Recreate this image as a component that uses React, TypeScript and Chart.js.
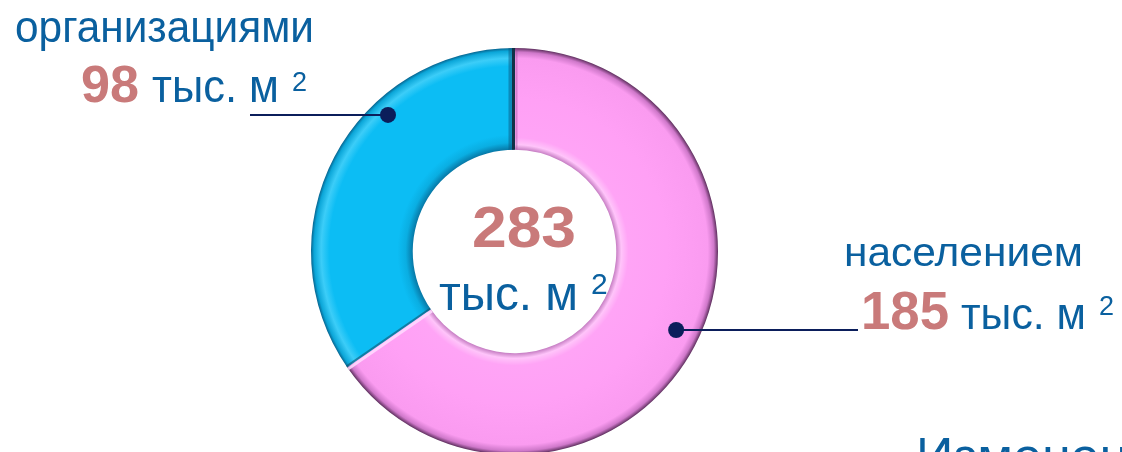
import React, { useEffect, useRef } from 'react';
import { Chart, registerables } from 'chart.js';

Chart.register(...registerables);

// ---- data ----
const categories = ['населением', 'организациями'];
const values = [185, 98];
const sliceColors = ['#FFA0F5', '#0CBDF4'];
const unitLabel = 'тыс. м';
const unitPower = '2';
const footerText = 'Изменения';

// ---- style ----
const CANVAS_W = 1122;
const CANVAS_H = 470;
const TEXT_BLUE = '#0A609F';
const NUM_RED = '#C97A7A';
const LEADER = '#0B1E5B';
const FONT = '"Liberation Sans", Arial, sans-serif';

const gradientStops: Array<Array<[number, string]>> = [
  [
    [0, '#c77fc4'],
    [0.05, '#ffc4fa'],
    [0.12, '#ffa4f6'],
    [0.5, '#ffa0f5'],
    [0.9, '#fa9bf0'],
    [0.96, '#cf78ca'],
    [1, '#5e2f5e'],
  ],
  [
    [0, '#0778a6'],
    [0.07, '#0aaee2'],
    [0.15, '#0cbdf4'],
    [0.82, '#0cbdf4'],
    [0.9, '#3ccdf8'],
    [0.97, '#0ba6d8'],
    [1, '#07648f'],
  ],
];

function drawFit(
  ctx: CanvasRenderingContext2D,
  text: string,
  x: number,
  y: number,
  font: string,
  color: string,
  width?: number,
  align: 'left' | 'center' = 'left'
) {
  ctx.save();
  ctx.font = font;
  ctx.fillStyle = color;
  ctx.textBaseline = 'alphabetic';
  ctx.textAlign = 'left';
  const m = ctx.measureText(text).width;
  const sx = width ? width / m : 1;
  const w = m * sx;
  const left = align === 'center' ? x - w / 2 : x;
  ctx.translate(left, y);
  ctx.scale(sx, 1);
  ctx.fillText(text, 0, 0);
  ctx.restore();
}

const overlayPlugin = {
  id: 'overlay',
  afterDatasetsDraw(chart: any) {
    const ctx: CanvasRenderingContext2D = chart.ctx;
    const meta = chart.getDatasetMeta(0);
    const arcs = meta.data as any[];
    if (!arcs.length) return;
    const a0 = arcs[0];
    const cx = a0.x;
    const cy = a0.y;
    const ir = a0.innerRadius;
    const or = a0.outerRadius;
    ctx.save();
    ctx.lineCap = 'butt';
    const seam = (ang: number, col: string, w: number, off: number) => {
      const c = Math.cos(ang);
      const s = Math.sin(ang);
      const px = -s * off;
      const py = c * off;
      ctx.strokeStyle = col;
      ctx.lineWidth = w;
      ctx.beginPath();
      ctx.moveTo(cx + c * ir + px, cy + s * ir + py);
      ctx.lineTo(cx + c * or + px, cy + s * or + py);
      ctx.stroke();
    };
    seam(a0.startAngle, 'rgba(10,90,130,0.5)', 4, -4);
    seam(a0.startAngle, '#123247', 3, -1);
    seam(a0.startAngle, 'rgba(150,80,150,0.4)', 2, 2);
    seam(a0.endAngle, 'rgba(255,220,255,0.85)', 3, -2);
    seam(a0.endAngle, 'rgba(20,80,110,0.6)', 2, 1);
    ctx.restore();
  },
  afterDraw(chart: any) {
    const ctx: CanvasRenderingContext2D = chart.ctx;
    const meta = chart.getDatasetMeta(0);
    const arcs = meta.data as any[];
    if (!arcs.length) return;
    const cx = arcs[0].x;
    const cy = arcs[0].y;
    const or = arcs[0].outerRadius;
    const total = values.reduce((a, b) => a + b, 0);

    // leader dots (angle measured clockwise from the top)
    const dotAt = (deg: number, rf: number) => {
      const t = (deg * Math.PI) / 180;
      return { x: cx + or * rf * Math.sin(t), y: cy - or * rf * Math.cos(t) };
    };
    const drawLeader = (p: { x: number; y: number }, x2: number) => {
      ctx.save();
      ctx.strokeStyle = LEADER;
      ctx.lineWidth = 2;
      ctx.beginPath();
      ctx.moveTo(p.x, p.y);
      ctx.lineTo(x2, p.y);
      ctx.stroke();
      ctx.fillStyle = LEADER;
      ctx.beginPath();
      ctx.arc(p.x, p.y, 8, 0, Math.PI * 2);
      ctx.fill();
      ctx.restore();
    };

    // left block: series index 1
    drawFit(ctx, categories[1], 15, 42, `44px ${FONT}`, TEXT_BLUE, 299);
    drawFit(ctx, String(values[1]), 81, 102, `bold 51px ${FONT}`, NUM_RED, 58);
    drawFit(ctx, unitLabel, 152, 102, `46px ${FONT}`, TEXT_BLUE, 127);
    drawFit(ctx, unitPower, 292, 91, `27px ${FONT}`, TEXT_BLUE);
    drawLeader(dotAt(317.2, 0.915), 250);

    // center
    drawFit(ctx, String(total), 524, 247, `bold 58px ${FONT}`, NUM_RED, 104, 'center');
    drawFit(ctx, unitLabel, 439, 310, `48px ${FONT}`, TEXT_BLUE, 139);
    drawFit(ctx, unitPower, 591, 294, `30px ${FONT}`, TEXT_BLUE);

    // right block: series index 0
    drawFit(ctx, categories[0], 844, 266, `41px ${FONT}`, TEXT_BLUE, 239);
    drawFit(ctx, String(values[0]), 861, 329, `bold 53px ${FONT}`, NUM_RED, 88);
    drawFit(ctx, unitLabel, 961, 329, `45px ${FONT}`, TEXT_BLUE, 125);
    drawFit(ctx, unitPower, 1099, 315, `27px ${FONT}`, TEXT_BLUE);
    drawLeader(dotAt(115.9, 0.883), 858);

    // footer heading (clipped by the frame)
    drawFit(ctx, footerText, 916, 474, `52px ${FONT}`, TEXT_BLUE);
  },
};

export default function App() {
  const ref = useRef<HTMLCanvasElement>(null);
  useEffect(() => {
    document.body.style.margin = '0';
    const canvas = ref.current!;
    const chart = new Chart(canvas, {
      type: 'doughnut',
      data: {
        labels: categories,
        datasets: [
          {
            data: values,
            borderWidth: 0,
            backgroundColor: (c: any) => {
              const ch = c.chart;
              const area = ch.chartArea;
              const i = c.dataIndex ?? 0;
              if (!area) return sliceColors[i];
              const cx = (area.left + area.right) / 2;
              const cy = (area.top + area.bottom) / 2;
              const or = Math.min(area.right - area.left, area.bottom - area.top) / 2;
              const ir = or * 0.5;
              const g = ch.ctx.createRadialGradient(cx, cy, ir, cx, cy, or);
              for (const [o, col] of gradientStops[i]) g.addColorStop(o, col);
              return g;
            },
          },
        ],
      },
      options: {
        responsive: false,
        animation: false,
        cutout: '50%',
        events: [],
        layout: { padding: { left: 311, right: 404, top: 48, bottom: 15 } },
        plugins: {
          legend: { display: false },
          tooltip: { enabled: false },
        },
      },
      plugins: [overlayPlugin],
    });
    return () => chart.destroy();
  }, []);
  return (
    <div
      style={{
        position: 'absolute',
        left: 0,
        top: 0,
        width: 1122,
        height: 452,
        overflow: 'hidden',
        background: '#ffffff',
      }}
    >
      <canvas ref={ref} width={CANVAS_W} height={CANVAS_H} style={{ display: 'block' }} />
    </div>
  );
}
